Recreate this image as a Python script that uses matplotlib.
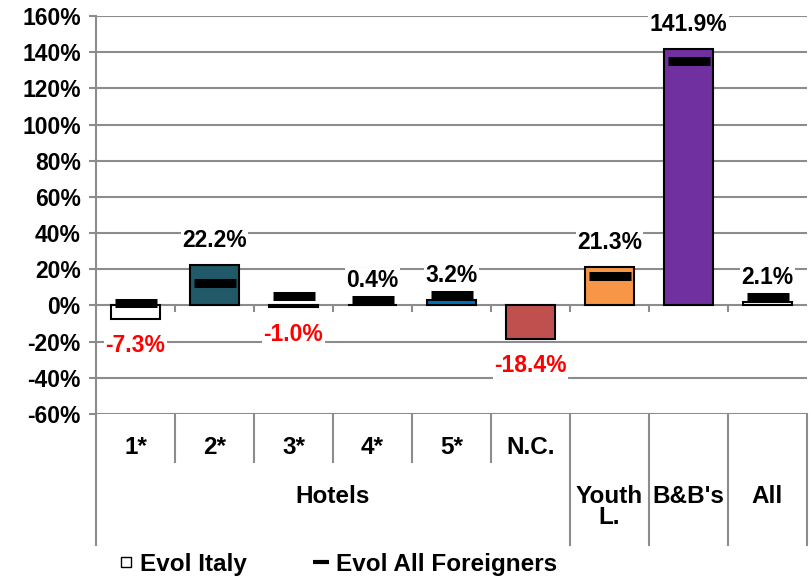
import numpy as np
import matplotlib
matplotlib.use("Agg")
import matplotlib.pyplot as plt
from matplotlib.ticker import FuncFormatter
from matplotlib.lines import Line2D

# data
categories = ["1*", "2*", "3*", "4*", "5*", "N.C.", "Youth\nL.", "B&B's", "All"]
evol_italy = [-7.3, 22.2, -1.0, 0.4, 3.2, -18.4, 21.3, 141.9, 2.1]
evol_foreigners = [1.5, 12.5, 5.4, 3.2, 5.8, np.nan, 16.2, 135.0, 4.9]
bar_colors = ["white", "#215968", "white", "white", "#0070C0", "#C0504D",
              "#F79646", "#7030A0", "white"]
hotel_cats = 6
yticks = list(range(-60, 161, 20))

plt.rcParams['font.family'] = ['Liberation Sans', 'DejaVu Sans']
plt.rcParams['font.weight'] = 'bold'
grey = "#8c8c8c"
fs = 16.5    # ticks, data labels
fs2 = 17.5   # categories, legend

fig = plt.figure(figsize=(8.11, 5.80), dpi=100)
ax = fig.add_axes([96/811, 1-414/580, (807-96)/811, (414-16)/580])

x = np.arange(len(categories))
ax.bar(x, evol_italy, width=0.63, color=bar_colors, edgecolor="black",
       linewidth=1.5, zorder=3)
ax.plot(x, evol_foreigners, linestyle="none", marker="_", markersize=30,
        markeredgewidth=6.5, color="black", zorder=4)

# data labels
for xi, v in zip(x, evol_italy):
    if v >= 0:
        ax.annotate(f"{v:.1f}%", (xi, v), xytext=(0, 17.5), textcoords="offset points",
                    ha="center", va="center", fontsize=fs, color="black", zorder=5,
                    bbox=dict(facecolor="white", edgecolor="none", pad=1))
    else:
        ax.annotate(f"{v:.1f}%", (xi, v), xytext=(0, -19.5), textcoords="offset points",
                    ha="center", va="center", fontsize=fs, color="red", zorder=5,
                    bbox=dict(facecolor="white", edgecolor="none", pad=1))

ax.set_xlim(-0.5, len(categories) - 0.5)
ax.set_ylim(-60, 160)
ax.set_yticks(yticks)
ax.yaxis.set_major_formatter(FuncFormatter(lambda v, p: f"{v:.0f}%"))
ax.tick_params(axis="y", labelsize=fs, length=5, color=grey, width=1.5, pad=6)
ax.grid(axis="y", color=grey, linewidth=1.5, zorder=0)
ax.set_xticks([])
for s in ["top", "right", "bottom"]:
    ax.spines[s].set_visible(False)
ax.spines["left"].set_color(grey)
ax.spines["left"].set_linewidth(1.5)

# small ticks on the zero line
sec = ax.secondary_xaxis(60/220)
sec.set_xticks(np.arange(len(categories) - 1) + 0.5)
sec.set_xticklabels([])
sec.tick_params(axis="x", direction="out", length=5, color=grey, width=1.5)
for s in sec.spines.values():
    s.set_visible(False)

# category table under the axis
tr = ax.get_xaxis_transform()
for i in range(len(categories) + 1):
    b = i - 0.5
    bottom = -0.12 if 0 < i < hotel_cats else -0.33
    ax.plot([b, b], [0, bottom], transform=tr, color=grey, linewidth=1.5, clip_on=False)
for i, c in enumerate(categories):
    if i < hotel_cats:
        ax.text(i, -0.083, c, transform=tr, ha="center", va="center", fontsize=fs2)
    else:
        ax.text(i, -0.178, c, transform=tr, ha="center", va="top", fontsize=fs2,
                linespacing=0.92)
ax.text((hotel_cats - 1) / 2, -0.208, "Hotels", transform=tr, ha="center", va="center",
        fontsize=fs2)

handles = [
    Line2D([], [], linestyle="none", marker="s", markersize=6.5, markerfacecolor="white",
           markeredgecolor="black", markeredgewidth=1),
    Line2D([], [], linestyle="none", marker="_", markersize=11, markeredgewidth=3,
           color="black"),
]
fig.legend(handles, ["Evol Italy", "Evol All Foreigners"], loc="center left",
           bbox_to_anchor=(0.146, 1 - 564/580), ncol=2, frameon=False, fontsize=fs2,
           handlelength=0.6, handletextpad=0.3, columnspacing=2.75, borderpad=0,
           borderaxespad=0)

fig.savefig("out.png", dpi=100)
